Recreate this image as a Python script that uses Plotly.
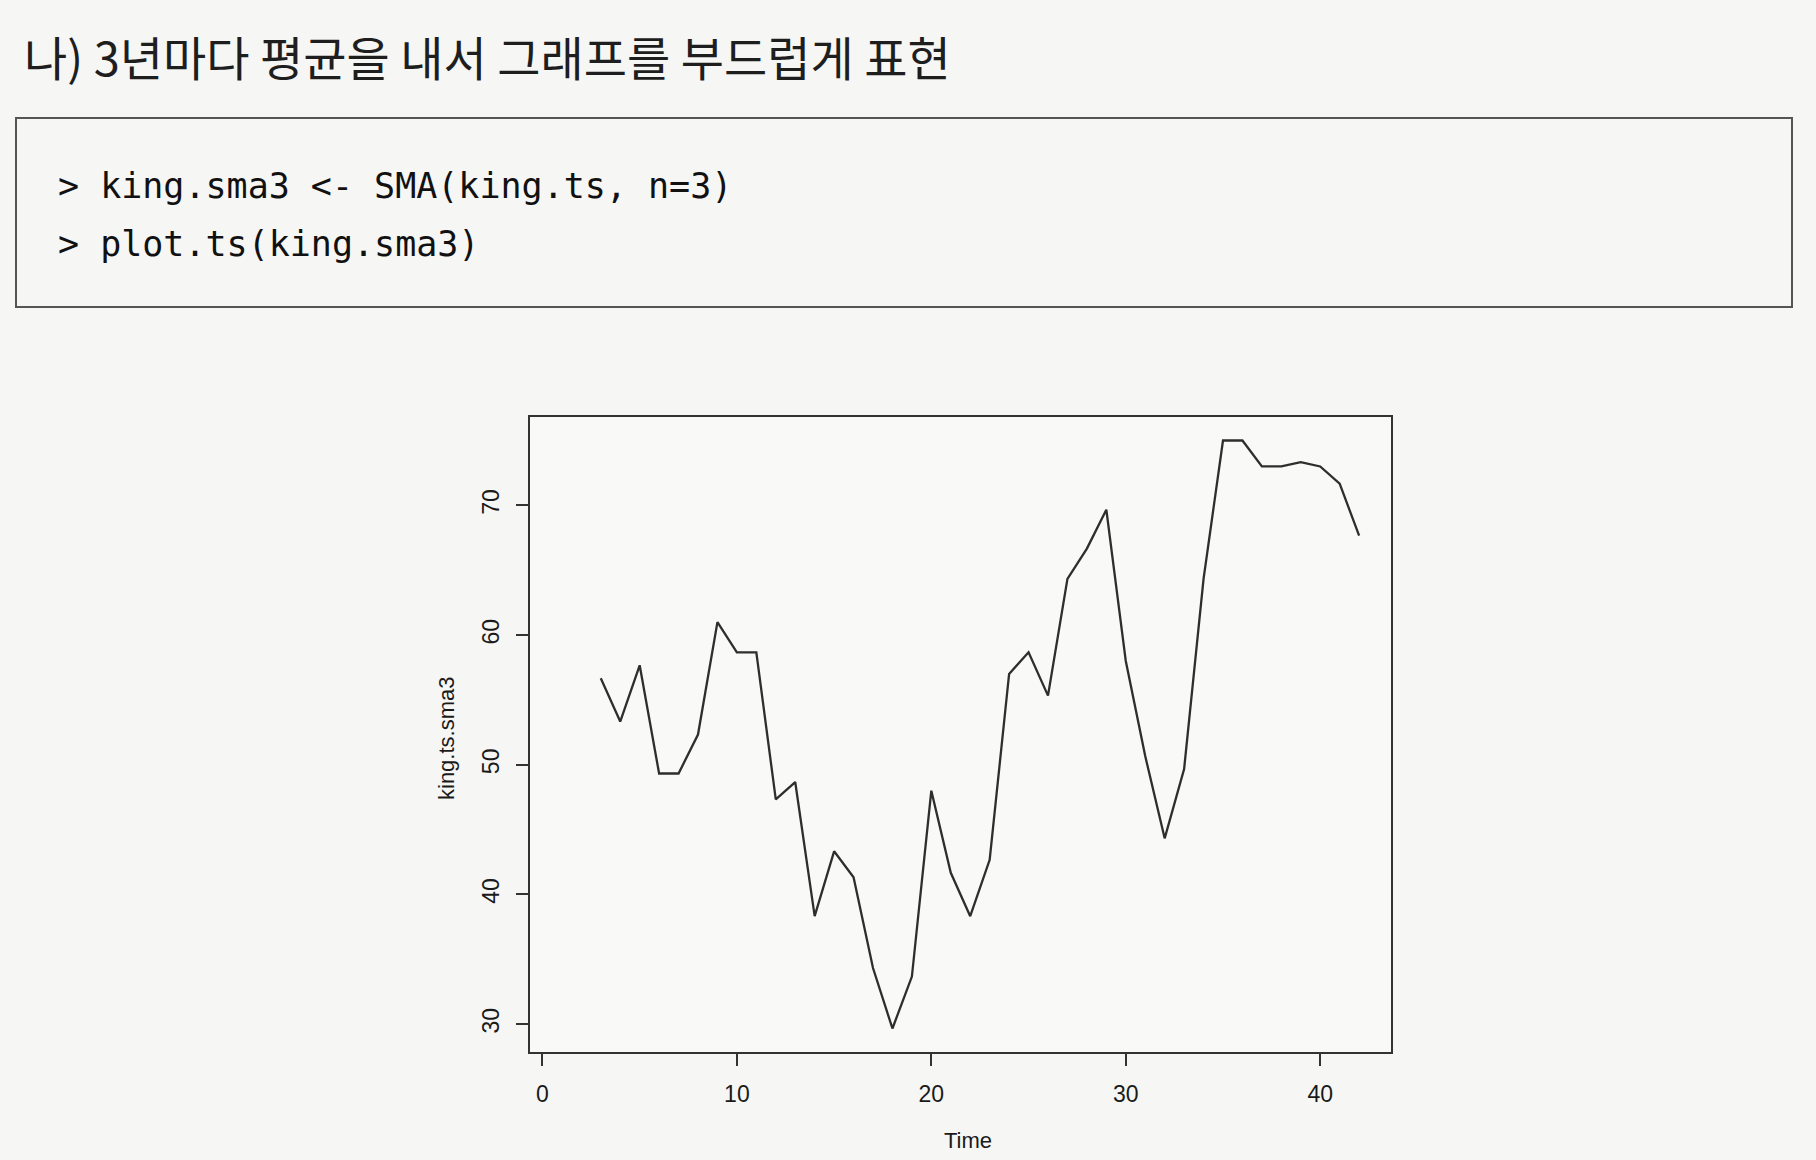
import plotly.graph_objects as go

# Data: 3-period simple moving average of king.ts
time_idx = list(range(3, 43))
king_sma3 = [56.67, 53.33, 57.67, 49.33, 49.33, 52.33, 61.00, 58.67, 58.67, 47.33,
             48.67, 38.33, 43.33, 41.33, 34.33, 29.67, 33.67, 48.00, 41.67, 38.33,
             42.67, 57.00, 58.67, 55.33, 64.33, 66.67, 69.67, 58.00, 50.67, 44.33,
             49.67, 64.33, 75.00, 75.00, 73.00, 73.00, 73.33, 73.00, 71.67, 67.67]
x_ticks = [0, 10, 20, 30, 40]
y_ticks = [30, 40, 50, 60, 70]

title_text = "나) 3년마다 평균을 내서 그래프를 부드럽게 표현"
code_lines = ["> king.sma3 <- SMA(king.ts, n=3)", "> plot.ts(king.sma3)"]

W, H = 1816, 1160
def px(x): return x / W
def py(y): return 1 - y / H

fig = go.Figure()
fig.add_trace(go.Scatter(x=time_idx, y=king_sma3, mode="lines",
                         line=dict(color="#2e2e2e", width=2.3), showlegend=False,
                         hoverinfo="x+y"))

# R-style axis range: 4% extension of data range (time 1..42)
xmin, xmax = 1, 42
ymin, ymax = min(king_sma3), max(king_sma3)
xr = [xmin - 0.04 * (xmax - xmin), xmax + 0.04 * (xmax - xmin)]
yr = [ymin - 0.04 * (ymax - ymin), ymax + 0.04 * (ymax - ymin)]

tickfont = dict(family="Liberation Sans", size=23, color="#1a1a1a")
fig.update_layout(
    width=W, height=H,
    margin=dict(l=0, r=0, t=0, b=0),
    paper_bgcolor="#f6f6f5",
    plot_bgcolor="#f9f9f8",
    xaxis=dict(domain=[px(530), px(1391)], range=xr, tickvals=x_ticks,
               ticks="outside", ticklen=12, tickwidth=1.5, tickcolor="#333",
               showline=True, linecolor="#333", linewidth=2, mirror=True,
               showgrid=False, zeroline=False, tickfont=tickfont,
               ticklabelstandoff=8),
    yaxis=dict(domain=[py(1052), py(417)], range=yr, tickvals=y_ticks,
               ticks="outside", ticklen=12, tickwidth=1.5, tickcolor="#333",
               showline=True, linecolor="#333", linewidth=2, mirror=True,
               showgrid=False, zeroline=False, tickfont=tickfont, tickangle=-90,
               ticklabelstandoff=8),
)

# Code box
fig.add_shape(type="rect", xref="paper", yref="paper",
              x0=px(16), x1=px(1792), y0=py(307), y1=py(118),
              line=dict(color="#555555", width=2), fillcolor="rgba(0,0,0,0)")

annotations = [
    dict(text=title_text, x=px(22), y=py(56), xanchor="left", yanchor="middle",
         font=dict(family="Noto Sans CJK KR", size=47, color="#1e1e1e")),
    dict(text=code_lines[0], x=px(56), y=py(186), xanchor="left", yanchor="middle",
         font=dict(family="DejaVu Sans Mono", size=35, color="#111111")),
    dict(text=code_lines[1], x=px(56), y=py(244), xanchor="left", yanchor="middle",
         font=dict(family="DejaVu Sans Mono", size=35, color="#111111")),
    dict(text="Time", x=px(968), y=py(1140), xanchor="center", yanchor="middle",
         font=dict(family="Liberation Sans", size=22, color="#1a1a1a")),
    dict(text="king.ts.sma3", x=px(446), y=py(738), xanchor="center", yanchor="middle",
         textangle=-90, font=dict(family="Liberation Sans", size=22, color="#1a1a1a")),
]
for a in annotations:
    a.update(xref="paper", yref="paper", showarrow=False)
    fig.add_annotation(**a)

fig.write_html("out.html")
